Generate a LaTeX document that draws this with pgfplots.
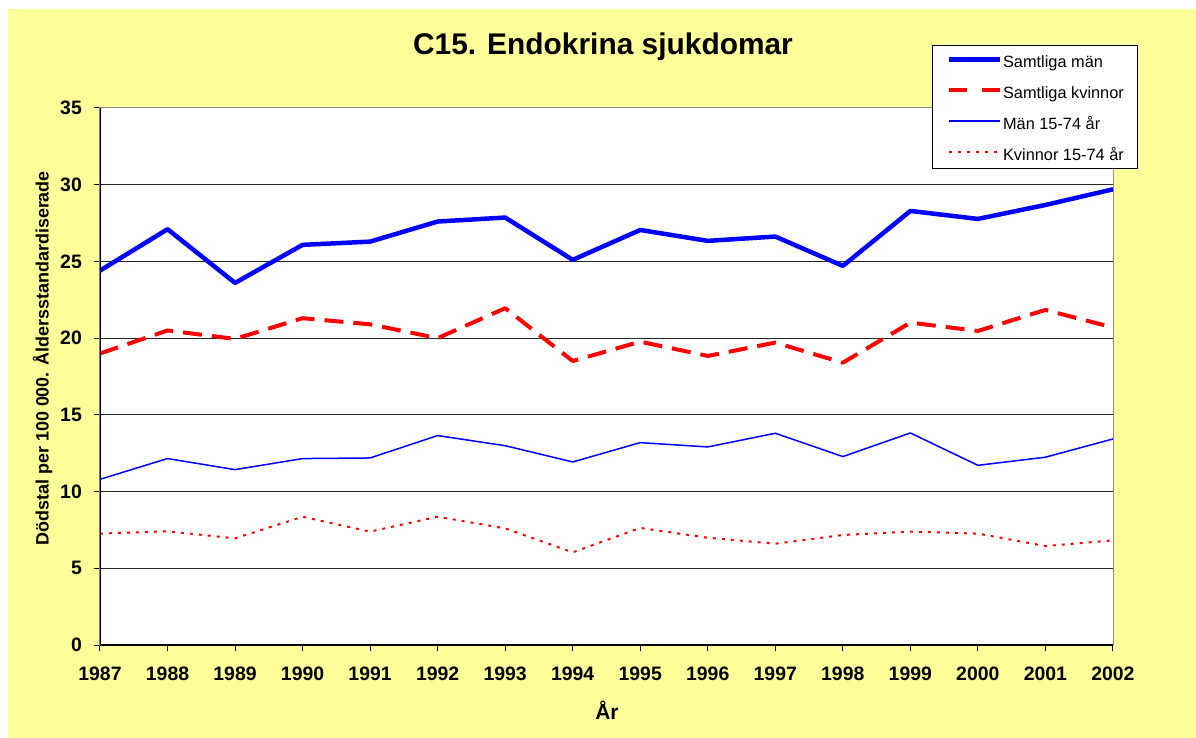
\documentclass[border=0pt]{standalone}
\usepackage{fontspec}
\setmainfont{Liberation Sans}
\usepackage{pgfplots}
\usepackage{pgfplotstable}
\pgfplotsset{compat=1.18}
\definecolor{bgyellow}{HTML}{FFFF99}
\definecolor{pblue}{RGB}{0,0,255}
\definecolor{pred}{RGB}{255,0,0}
\pgfplotstableread{
year men women men1574 women1574
1987 24.40 19.00 10.80 7.26
1988 27.10 20.50 12.15 7.41
1989 23.60 19.95 11.43 6.95
1990 26.08 21.30 12.15 8.36
1991 26.29 20.90 12.19 7.39
1992 27.60 20.00 13.65 8.36
1993 27.86 21.95 12.99 7.60
1994 25.10 18.51 11.93 6.04
1995 27.05 19.77 13.19 7.63
1996 26.34 18.84 12.91 6.99
1997 26.62 19.71 13.80 6.60
1998 24.71 18.40 12.28 7.17
1999 28.29 21.01 13.82 7.39
2000 27.77 20.47 11.71 7.26
2001 28.68 21.84 12.24 6.45
2002 29.70 20.69 13.43 6.82
}\datatable
\begin{document}
\begin{tikzpicture}
\fill[white] (-100bp,-93bp) rectangle (1096bp,645bp);
\fill[bgyellow] (-92bp,-93bp) rectangle (1096bp,636bp);
\begin{axis}[
  at={(0,0)}, anchor=south west,
  scale only axis, width=1013bp, height=537bp,
  xmin=1987, xmax=2002, ymin=0, ymax=35,
  xtick={1987,...,2002}, ytick={0,5,...,35},
  /pgf/number format/1000 sep={},
  /pgf/number format/assume math mode=true,
  axis background/.style={fill=white},
  axis line style={draw=black!45, line width=1bp},
  tick pos=left, tick align=outside,
  major tick length=6bp,
  tick style={black, line width=1bp},
  ymajorgrids, major grid style={black!85, line width=1bp},
  ticklabel style={font=\bfseries\fontsize{19.5}{22}\selectfont},
  xticklabel style={anchor=base, inner sep=0pt, yshift=-29bp},
  yticklabel style={anchor=east, inner sep=0pt, xshift=-12bp},
  title={C15. Endokrina sjukdomar},
  title style={font=\bfseries\fontsize{30}{36}\selectfont, at={(axis description cs:0.4965,1.0894)}, anchor=base},
  xlabel={År},
  xlabel style={font=\bfseries\fontsize{21}{24}\selectfont, at={(axis description cs:0.5005,-0.1384)}, anchor=base},
  ylabel={Dödstal per 100 000. Åldersstandardiserade},
  ylabel style={font=\bfseries\fontsize{18}{20}\selectfont, at={(axis description cs:-0.0508,0.5339)}, anchor=base},
  legend cell align=left,
  legend style={at={(axis description cs:0.8213,1.1173)}, anchor=north west,
    draw=black, line width=1.2bp, fill=white,
    inner xsep=14bp, inner ysep=7bp, row sep=13.7bp, column sep=1bp,
    font=\fontsize{16.4}{18}\selectfont,
    nodes={inner sep=0pt, text height=15.3bp, text depth=1.7bp}},
  legend image code/.code={\draw[#1] (0bp,1.5bp) -- (51bp,1.5bp);},
  every axis plot/.append style={line join=round},
]
\addplot[pblue, line width=4.5bp] table[x=year, y=men] {\datatable};
\addlegendentry{Samtliga män}
\addplot[pred, line width=4bp, dash pattern=on 19bp off 10bp,
  legend image post style={dash pattern=on 18bp off 15bp}] table[x=year, y=women] {\datatable};
\addlegendentry{Samtliga kvinnor}
\addplot[pblue, line width=1.5bp, legend image post style={draw=pblue}] table[x=year, y=men1574] {\datatable};
\addlegendentry{Män 15-74 år}
\addplot[pred, line width=2bp, dash pattern=on 3bp off 6bp] table[x=year, y=women1574] {\datatable};
\addlegendentry{Kvinnor 15-74 år}
\draw[black, line width=1.2bp] (rel axis cs:0,1) -- (rel axis cs:0,0) -- (rel axis cs:1,0);
\end{axis}
\pgfresetboundingbox
\useasboundingbox (-100bp,-93bp) rectangle (1096bp,645bp);
\end{tikzpicture}
\end{document}
